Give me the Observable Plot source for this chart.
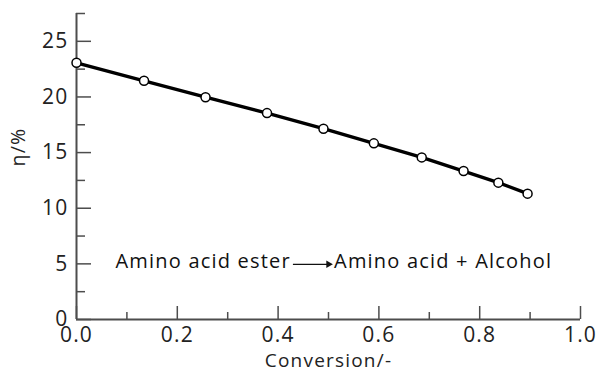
<!DOCTYPE html>
<html>
<head>
<meta charset="utf-8">
<script src="https://cdn.jsdelivr.net/npm/d3@7"></script>
<script src="https://cdn.jsdelivr.net/npm/@observablehq/plot@0.6"></script>
<style>
  html, body { margin: 0; padding: 0; background: #fff; }
  #chart svg text { letter-spacing: 1.2px; }
</style>
</head>
<body>
<div id="chart"></div>
<script>
// Data
const conversion = [0, 0.134, 0.256, 0.378, 0.490, 0.590, 0.685, 0.768, 0.837, 0.895];
const eta = [23.07, 21.45, 19.98, 18.55, 17.15, 15.83, 14.57, 13.34, 12.30, 11.31];

// Tick values
const xMajor = [0, 0.2, 0.4, 0.6, 0.8, 1.0];
const xMinor = [0.1, 0.3, 0.5, 0.7, 0.9];
const yMajor = [0, 5, 10, 15, 20, 25];
const yMinor = [2.5, 7.5, 12.5, 17.5, 22.5, 27.5];

// Labels
const xLabel = "Conversion/-";
const yLabel = "η/%";

// Annotation (reaction scheme) in data units
const reactant = [{x: 0.4254, y: 5.19, text: "Amino acid ester"}];
const products = [{x: 0.511, y: 5.19, text: "Amino acid + Alcohol"}];
const reactionArrow = [{x1: 0.4294, x2: 0.500, y: 4.96}];

const data = conversion.map((c, i) => ({conversion: c, eta: eta[i]}));

const axisColor = "#4d4d4d";
const font = "'Open Sans', sans-serif";

const chart = Plot.plot({
  width: 600,
  height: 375,
  marginLeft: 76,
  marginRight: 20,
  marginTop: 13,
  marginBottom: 56,
  style: {fontFamily: font, color: "#222", background: "#fff"},
  x: {domain: [0, 1]},
  y: {domain: [0, 27.5]},
  marks: [
    // axis lines
    Plot.ruleY([0], {stroke: axisColor, strokeWidth: 2}),
    Plot.ruleX([0], {stroke: axisColor, strokeWidth: 2}),
    // x ticks (inward)
    Plot.ruleX(xMajor, {x: d => d, y1: 0, y2: 0, insetTop: -13, stroke: axisColor, strokeWidth: 1.5}),
    Plot.ruleX(xMinor, {x: d => d, y1: 0, y2: 0, insetTop: -7, stroke: axisColor, strokeWidth: 1.5}),
    // y ticks (inward)
    Plot.ruleY(yMajor, {y: d => d, x1: 0, x2: 0, insetRight: -15, stroke: axisColor, strokeWidth: 1.5}),
    Plot.ruleY(yMinor, {y: d => d, x1: 0, x2: 0, insetRight: -9, stroke: axisColor, strokeWidth: 1.5}),
    // tick labels
    Plot.axisX(xMajor, {tickSize: 0, tickPadding: 8, tickFormat: d3.format(".1f"), fontSize: 21, label: null, fill: "#222"}),
    Plot.axisY(yMajor, {tickSize: 0, tickPadding: 8, fontSize: 21, label: null, fill: "#222"}),
    // axis titles
    Plot.text([xLabel], {frameAnchor: "bottom", dy: 47, fontSize: 19, fill: "#222"}),
    Plot.text([yLabel], {frameAnchor: "left", dx: -58, rotate: -90, fontSize: 19.5, fill: "#222"}),
    // data
    Plot.line(data, {x: "conversion", y: "eta", stroke: "#000", strokeWidth: 3.4}),
    Plot.dot(data, {x: "conversion", y: "eta", r: 4.5, fill: "#fff", stroke: "#000", strokeWidth: 1.5}),
    // annotation
    Plot.text(reactant, {x: "x", y: "y", text: "text", textAnchor: "end", fontSize: 20, fill: "#111"}),
    Plot.text(products, {x: "x", y: "y", text: "text", textAnchor: "start", fontSize: 20, fill: "#111"}),
    Plot.link(reactionArrow, {x1: "x1", x2: "x2", y1: "y", y2: "y", stroke: "#111", strokeWidth: 1.3}),
    Plot.dot(reactionArrow, {x: "x2", y: "y", symbol: "triangle2", rotate: 90, r: 3.6, fill: "#111", stroke: "none"})
  ]
});

document.getElementById("chart").append(chart);
</script>
</body>
</html>
